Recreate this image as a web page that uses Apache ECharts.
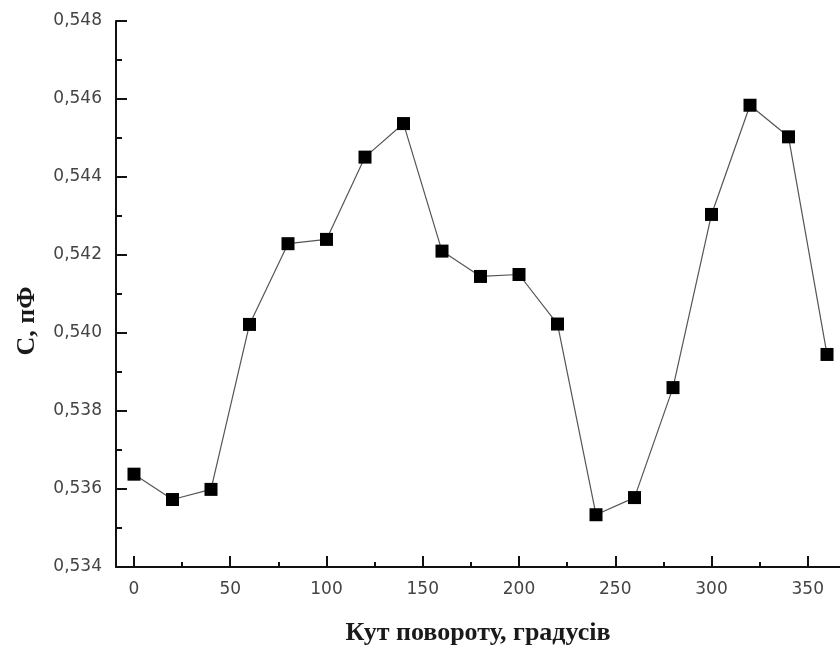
<!DOCTYPE html>
<html>
<head>
<meta charset="utf-8">
<script src="https://cdn.jsdelivr.net/npm/echarts@6/dist/echarts.min.js"></script>
<style>
  html, body { margin: 0; padding: 0; background: #fff; }
  #chart { width: 840px; height: 655px; }
</style>
</head>
<body>
<div id="chart"></div>
<script>
// Rotation angle, degrees
const angles = [0, 20, 40, 60, 80, 100, 120, 140, 160, 180, 200, 220, 240, 260, 280, 300, 320, 340, 360];
// Capacitance, pF
const capacitance = [0.53638, 0.53573, 0.53599, 0.54022, 0.54229, 0.54240, 0.54451, 0.54537, 0.54210, 0.54145,
                     0.54150, 0.54023, 0.53534, 0.53578, 0.53860, 0.54304, 0.54584, 0.54503, 0.53945];
// Axis ticks
const xMajorTicks = [0, 50, 100, 150, 200, 250, 300, 350];
const xMinorTicks = [25, 75, 125, 175, 225, 275, 325];
const yTicks = [0.534, 0.536, 0.538, 0.540, 0.542, 0.544, 0.546, 0.548];

const xTitle = 'Кут повороту, градусів';
const yTitle = 'С, пФ';

const labelFont = { fontFamily: 'DejaVu Sans, Liberation Sans, sans-serif', fontSize: 17, color: '#444' };
const titleFont = { fontFamily: 'Liberation Serif, Times New Roman, serif', fontSize: 26, fontWeight: 'bold', color: '#1a1a1a' };

const chart = echarts.init(document.getElementById('chart'), null, { renderer: 'canvas' });
chart.setOption({
  animation: false,
  backgroundColor: '#fff',
  grid: { left: 116, top: 21, width: 724, bottom: 88, containLabel: false },
  xAxis: [
    {
      type: 'value',
      min: -9.35,
      max: 366.75,
      position: 'bottom',
      name: xTitle,
      nameLocation: 'middle',
      nameGap: 53,
      nameTextStyle: Object.assign({ padding: [0, 0, 0, 0] }, titleFont),
      axisLine: { show: true, onZero: false, lineStyle: { color: '#111', width: 2 } },
      axisTick: { show: true, inside: true, length: 11, customValues: xMajorTicks, lineStyle: { color: '#111', width: 2 } },
      axisLabel: Object.assign({ margin: 14, customValues: xMajorTicks, formatter: v => String(v) }, labelFont),
      splitLine: { show: false }
    },
    {
      type: 'value',
      min: -9.35,
      max: 366.75,
      position: 'bottom',
      axisLine: { show: false, onZero: false },
      axisTick: { show: true, inside: true, length: 5, customValues: xMinorTicks, lineStyle: { color: '#111', width: 2 } },
      axisLabel: { show: false },
      splitLine: { show: false }
    }
  ],
  yAxis: {
    type: 'value',
    min: yTicks[0],
    max: yTicks[yTicks.length - 1],
    interval: 0.002,
    axisLine: { show: true, onZero: false, lineStyle: { color: '#111', width: 2 } },
    axisTick: { show: true, inside: true, length: 11, lineStyle: { color: '#111', width: 2 } },
    minorTick: { show: true, splitNumber: 2, length: 6, lineStyle: { color: '#111', width: 2 } },
    axisLabel: Object.assign({ margin: 14, formatter: v => v.toFixed(3).replace('.', ',') }, labelFont),
    splitLine: { show: false },
    minorSplitLine: { show: false }
  },
  // vertical axis title
  graphic: [{
    type: 'text',
    x: 27,
    y: 321,
    rotation: Math.PI / 2,
    style: {
      text: yTitle,
      x: 0,
      y: 0,
      align: 'center',
      verticalAlign: 'middle',
      font: 'bold 26px "Liberation Serif", "Times New Roman", serif',
      fill: '#1a1a1a'
    }
  }],
  series: [{
    type: 'line',
    xAxisIndex: 0,
    data: angles.map((a, i) => [a, capacitance[i]]),
    symbol: 'rect',
    symbolSize: 13,
    showAllSymbol: true,
    itemStyle: { color: '#000' },
    lineStyle: { color: '#555', width: 1.2 },
    clip: false
  }]
});
</script>
</body>
</html>
